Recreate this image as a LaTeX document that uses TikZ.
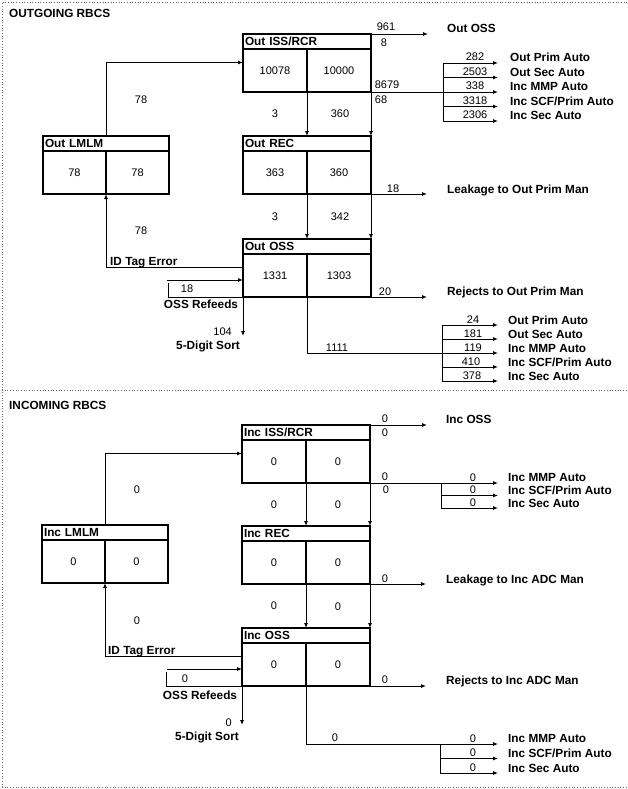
\documentclass[tikz,border=0pt]{standalone}
\usepackage{fontspec}
\setmainfont{Liberation Sans}
\usetikzlibrary{arrows.meta,calc}

\tikzset{
  boxhead/.style={draw, line width=1.2pt, anchor=north west, minimum height=15pt,
    text width=#1, inner xsep=2pt, inner ysep=0pt, outer sep=0pt, align=left,
    font=\fontsize{11.8}{13}\selectfont\bfseries},
  boxhead/.default=124pt,
  boxcell/.style={draw, line width=1.2pt, anchor=north west, minimum width=#1,
    minimum height=43pt, inner sep=0pt, outer sep=0pt, font=\fontsize{11}{13}\selectfont},
  boxcell/.default=64pt,
  num/.style={inner sep=1pt, font=\fontsize{11}{13}\selectfont},
  lbl/.style={inner sep=1pt, font=\fontsize{11.8}{13}\selectfont\bfseries},
  dest/.style={lbl, anchor=base west},
  line/.style={line width=0.9pt},
  flow/.style={line, -{Latex[length=5pt,width=4pt]}},
  frame/.style={dotted, line width=0.7pt, black!60},
}

\begin{document}
\begin{tikzpicture}[x=1pt,y=-1pt]
  \useasboundingbox (0,0) rectangle (627,789);
  \draw[frame] (2,787) -- (2,2) -- (627,2);
  \draw[frame] (2,390) -- (627,390);
  \draw[frame] (2,787) -- (627,787);

  % outgoing
  \node[lbl,anchor=west] (otitle) at (8,13) {OUTGOING RBCS};
  \node[boxhead] (oiss) at (243,34) {Out ISS/RCR};
  \node[boxcell] (oissa) at (oiss.south west) {10078};
  \node[boxcell] (oissb) at (oissa.north east) {10000};
  \node[boxhead] (orec) at (243,136) {Out REC};
  \node[boxcell] (oreca) at (orec.south west) {363};
  \node[boxcell] (orecb) at (oreca.north east) {360};
  \node[boxhead] (ooss) at (243,239) {Out OSS};
  \node[boxcell] (oossa) at (ooss.south west) {1331};
  \node[boxcell] (oossb) at (oossa.north east) {1303};
  \node[boxhead=122pt] (olmlm) at (43,136) {Out LMLM};
  \node[boxcell=63pt] (olmlma) at (olmlm.south west) {78};
  \node[boxcell=63pt] (olmlmb) at (olmlma.north east) {78};

  \draw[flow] (oissa.south east) -- (orec.north);
  \draw[flow] (oissb.south east) -- (orec.north east);
  \node[num] (oissrec1) at (275,114) {3};
  \node[num] (oissrec2) at (340,114) {360};
  \draw[flow] (oreca.south east) -- (ooss.north);
  \draw[flow] (orecb.south east) -- (ooss.north east);
  \node[num] (orecoss1) at (275,217) {3};
  \node[num] (orecoss2) at (340,217) {342};

  \draw[flow] (olmlm.north) |- ($(oissa.west)+(0,-8)$);
  \node[num] (olmlmup) at (141,100) {78};
  \draw[flow] ($(oossa.west)+(0,-8)$) -| (olmlma.south east);
  \node[num] (olmlmdn) at (141,231) {78};
  \node[lbl,anchor=base west] (otag) at (109,265) {ID Tag Error};

  \coordinate (orefeed) at (167,280);
  \draw[flow] (orefeed) -- (orefeed -| oossa.west);
  \draw[line] (oossa.south west) -| (168,283);
  \node[num] (orefeednum) at (187,289) {18};
  \node[lbl] (orefeeds) at (201,304) {OSS Refeeds};
  \draw[flow] (oossa.south west) -- ++(0,39);
  \node[num,anchor=east] (odigitnum) at (233,332) {104};
  \node[lbl,anchor=north east] (odigit) at (241,340) {5-Digit Sort};

  \draw[flow] (oiss.north east) -- ++(57,0);
  \node[num,anchor=base] (o961) at (386,31) {961};
  \node[num,anchor=north] (o8) at (384,38) {8};
  \node[lbl,anchor=base west] (ooutoss) at (446,33) {Out OSS};

  \coordinate (obrk) at (443,92);
  \draw[line] (oissb.south east) -- (obrk);
  \node[num,anchor=base] (o8679) at (387,89) {8679};
  \node[num,anchor=north] (o68) at (381,95) {68};
  \draw[line] (443,63) -- (443,121);
  \draw[flow] (443,63) -- (498,63);
  \node[num,anchor=base] (o282) at (475,61) {282};
  \node[dest] (oprim) at (509,62) {Out Prim Auto};
  \draw[flow] (443,77.5) -- (498,77.5);
  \node[num,anchor=base] (o2503) at (475,75.5) {2503};
  \node[dest] (osec) at (509,76.5) {Out Sec Auto};
  \draw[flow] (obrk) -- (498,92);
  \node[num,anchor=base] (o338) at (475,90) {338};
  \node[dest] (ommp) at (509,91) {Inc MMP Auto};
  \draw[flow] (443,106.5) -- (498,106.5);
  \node[num,anchor=base] (o3318) at (475,104.5) {3318};
  \node[dest] (oscf) at (509,105.5) {Inc SCF/Prim Auto};
  \draw[flow] (443,121) -- (498,121);
  \node[num,anchor=base] (o2306) at (475,119) {2306};
  \node[dest] (oincsec) at (509,120) {Inc Sec Auto};

  \draw[flow] (orecb.south east) -- ++(56,0);
  \node[num,anchor=base] (oleaknum) at (393,192) {18};
  \node[dest] (oleak) at (446,193) {Leakage to Out Prim Man};
  \draw[flow] (oossb.south east) -- ++(56,0);
  \node[num,anchor=base] (orejnum) at (385,295) {20};
  \node[dest] (orej) at (446,295) {Rejects to Out Prim Man};

  \coordinate (obrk2) at (442,353);
  \draw[line] (oossa.south east) |- (obrk2);
  \node[num,anchor=base] (o1111) at (337,351) {1111};
  \draw[line] (442,325) -- (442,381);
  \draw[flow] (442,325) -- (498,325);
  \node[num,anchor=base] (o24) at (473,323) {24};
  \node[dest] (oprim2) at (507,324) {Out Prim Auto};
  \draw[flow] (442,339) -- (498,339);
  \node[num,anchor=base] (o181) at (473,337) {181};
  \node[dest] (osec2) at (507,338) {Out Sec Auto};
  \draw[flow] (obrk2) -- (498,353);
  \node[num,anchor=base] (o119) at (473,351) {119};
  \node[dest] (ommp2) at (507,352) {Inc MMP Auto};
  \draw[flow] (442,367) -- (498,367);
  \node[num,anchor=base] (o410) at (471,365) {410};
  \node[dest] (oscf2) at (507,366) {Inc SCF/Prim Auto};
  \draw[flow] (442,381) -- (498,381);
  \node[num,anchor=base] (o378) at (472,379) {378};
  \node[dest] (oincsec2) at (507,380) {Inc Sec Auto};

  % incoming
  \begin{scope}[shift={(0,390)}]
    \node[lbl,anchor=west] (ititle) at (8,15) {INCOMING RBCS};
    \node[boxhead] (iiss) at (242,35) {Inc ISS/RCR};
    \node[boxcell] (iissa) at (iiss.south west) {0};
    \node[boxcell] (iissb) at (iissa.north east) {0};
    \node[boxhead] (irec) at (242,136) {Inc REC};
    \node[boxcell] (ireca) at (irec.south west) {0};
    \node[boxcell] (irecb) at (ireca.north east) {0};
    \node[boxhead] (ioss) at (242,238) {Inc OSS};
    \node[boxcell] (iossa) at (ioss.south west) {0};
    \node[boxcell] (iossb) at (iossa.north east) {0};
    \node[boxhead=122pt] (ilmlm) at (42,135) {Inc LMLM};
    \node[boxcell=63pt] (ilmlma) at (ilmlm.south west) {0};
    \node[boxcell=63pt] (ilmlmb) at (ilmlma.north east) {0};

    \draw[flow] (iissa.south east) -- (irec.north);
    \draw[flow] (iissb.south east) -- (irec.north east);
    \node[num] (iissrec1) at (274,115) {0};
    \node[num] (iissrec2) at (338,115) {0};
    \draw[flow] (ireca.south east) -- (ioss.north);
    \draw[flow] (irecb.south east) -- (ioss.north east);
    \node[num] (irecoss1) at (274,216) {0};
    \node[num] (irecoss2) at (338,217) {0};

    \draw[flow] (ilmlm.north) |- ($(iissa.west)+(0,-8)$);
    \node[num] (ilmlmup) at (137,100) {0};
    \draw[flow] ($(iossa.west)+(0,-8)$) -| (ilmlma.south east);
    \node[num] (ilmlmdn) at (137,231) {0};
    \node[lbl,anchor=base west] (itag) at (107,264) {ID Tag Error};

    \coordinate (irefeed) at (167,279);
    \draw[flow] (irefeed) -- (irefeed -| iossa.west);
    \draw[line] (iossa.south west) -| (166,282);
    \node[num] (irefeednum) at (185,289) {0};
    \node[lbl] (irefeeds) at (200,305) {OSS Refeeds};
    \draw[flow] (iossa.south west) -- ++(0,39);
    \node[num,anchor=east] (idigitnum) at (233,333) {0};
    \node[lbl,anchor=north east] (idigit) at (240,341) {5-Digit Sort};

    \draw[flow] (iiss.north east) -- ++(57,0);
    \node[num,anchor=base] (iossnum1) at (385,32) {0};
    \node[num,anchor=north] (iossnum2) at (385,38) {0};
    \node[lbl,anchor=base west] (iinoss) at (445,33) {Inc OSS};

    \coordinate (ibrk) at (441,93);
    \draw[line] (iissb.south east) -- (ibrk);
    \node[num,anchor=base] (iautonum1) at (385,90) {0};
    \node[num,anchor=north] (iautonum2) at (386,95) {0};
    \draw[line] (ibrk) -- (441,118);
    \draw[flow] (ibrk) -- (498,93);
    \node[num,anchor=base] (immpnum) at (473,91) {0};
    \node[dest] (immp) at (507,91) {Inc MMP Auto};
    \draw[flow] (441,105.5) -- (498,105.5);
    \node[num,anchor=base] (iscfnum) at (473,103.5) {0};
    \node[dest] (iscf) at (507,104) {Inc SCF/Prim Auto};
    \draw[flow] (441,118) -- (498,118);
    \node[num,anchor=base] (isecnum) at (473,116) {0};
    \node[dest] (isec) at (507,117) {Inc Sec Auto};

    \draw[flow] (irecb.south east) -- ++(56,0);
    \node[num,anchor=base] (ileaknum) at (385,192) {0};
    \node[dest] (ileak) at (445,193) {Leakage to Inc ADC Man};
    \draw[flow] (iossb.south east) -- ++(56,0);
    \node[num,anchor=base] (irejnum) at (385,293) {0};
    \node[dest] (irej) at (445,294) {Rejects to Inc ADC Man};

    \coordinate (ibrk2) at (440,354);
    \draw[line] (iossa.south east) |- (ibrk2);
    \node[num,anchor=base] (ilownum) at (335,351) {0};
    \draw[line] (ibrk2) -- (440,383);
    \draw[flow] (ibrk2) -- (498,354);
    \node[num,anchor=base] (immpnum2) at (473,352) {0};
    \node[dest] (immp2) at (507,352) {Inc MMP Auto};
    \draw[flow] (440,368.5) -- (498,368.5);
    \node[num,anchor=base] (iscfnum2) at (473,366.5) {0};
    \node[dest] (iscf2) at (507,367) {Inc SCF/Prim Auto};
    \draw[flow] (440,383) -- (498,383);
    \node[num,anchor=base] (isecnum2) at (473,381) {0};
    \node[dest] (isec2) at (507,382) {Inc Sec Auto};
  \end{scope}
\end{tikzpicture}
\end{document}
